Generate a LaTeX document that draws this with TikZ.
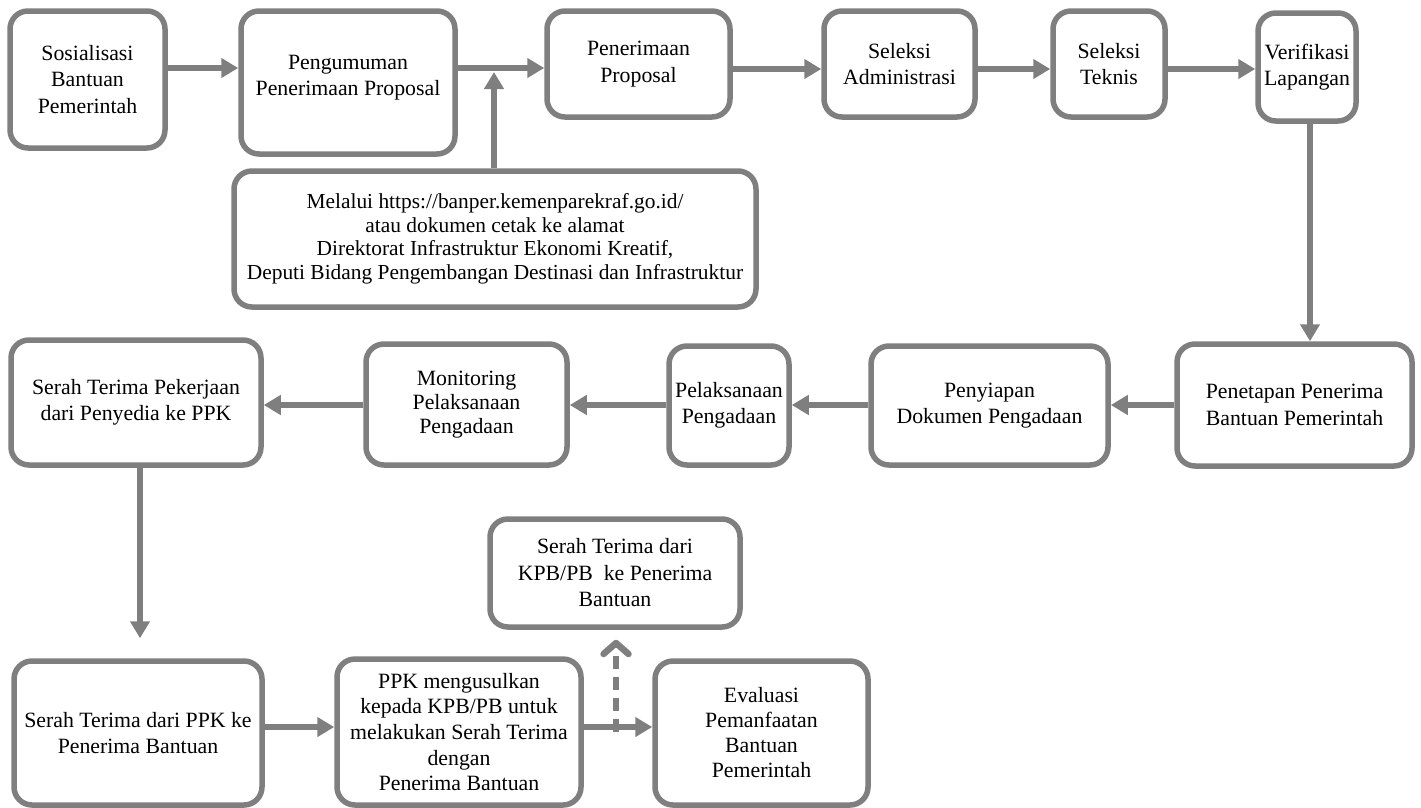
\documentclass[tikz,border=0pt]{standalone}
\usepackage{fontspec}
\setmainfont{Liberation Serif}
\usetikzlibrary{arrows.meta,calc}
\definecolor{lg}{RGB}{127,127,127}
\tikzset{
  box/.style={draw=lg, line width=5.5pt, rounded corners=18pt, align=center, fill=white,
    inner sep=1pt, font=\fontsize{21.8}{26.5}\selectfont},
  arr/.style={draw=lg, line width=6pt, -{Triangle[length=17pt,width=19pt]}},
  darr/.style={draw=lg, line width=6.5pt, dash pattern=on 13pt off 8pt,
    -{Straight Barb[length=11pt,width=25pt,line cap=round,line join=round]}},
}
\newcommand{\bx}[6]{\node[box, minimum width=#4pt, minimum height=#5pt] (#1) at (#2,#3) {#6};}
\begin{document}
\begin{tikzpicture}[x=1pt,y=-1pt]
\useasboundingbox (0,0) rectangle (1421,807);
% row 1
\bx{b1}{87.5}{79.5}{155}{137}{Sosialisasi\\Bantuan\\Pemerintah}
\node[box, minimum width=214pt, minimum height=143pt, text depth=14pt] (b2) at (348,82.5) {Pengumuman\\Penerimaan Proposal};
\bx{b3}{638.5}{64}{183}{106}{Penerimaan\\Proposal}
\bx{b4}{899.5}{64}{151}{106}{Seleksi\\Administrasi}
\bx{b5}{1109}{64}{112}{106}{Seleksi\\Teknis}
\bx{b6}{1307}{67}{98}{108}{Verifikasi\\Lapangan}
\node[box, minimum width=522pt, minimum height=136pt, font=\fontsize{21.4}{23.5}\selectfont] (n) at (495,239)
  {Melalui https://banper.kemenparekraf.go.id/\\atau dokumen cetak ke alamat\\Direktorat Infrastruktur Ekonomi Kreatif,\\Deputi Bidang Pengembangan Destinasi dan Infrastruktur};
% row 2
\bx{b7}{1294.5}{405}{235}{122}{Penetapan Penerima\\Bantuan Pemerintah}
\bx{b8}{989.5}{405.5}{237}{119}{Penyiapan\\Dokumen Pengadaan}
\bx{b9}{729}{405.5}{120}{119}{Pelaksanaan\\Pengadaan}
\node[box, minimum width=201pt, minimum height=121pt, font=\fontsize{21.8}{24}\selectfont] (b10) at (466.5,404.5) {Monitoring\\Pelaksanaan\\Pengadaan};
\bx{b11}{136}{402.5}{250}{125}{Serah Terima Pekerjaan\\dari Penyedia ke PPK}
% row 3
\bx{b12}{138}{733}{248}{144}{Serah Terima dari PPK ke\\Penerima Bantuan}
\node[box, minimum width=244pt, minimum height=146pt, font=\fontsize{21.8}{25.7}\selectfont] (b13) at (459,732)
  {PPK mengusulkan\\kepada KPB/PB untuk\\melakukan Serah Terima\\dengan\\Penerima Bantuan};
\node[box, minimum width=213pt, minimum height=144pt, font=\fontsize{21.8}{25}\selectfont] (b14) at (761.5,733) {Evaluasi\\Pemanfaatan\\Bantuan\\Pemerintah};
\bx{b15}{615}{573}{250}{108}{Serah Terima dari\\KPB/PB\ \ ke Penerima\\Bantuan}
% helper coordinates
\coordinate (y1) at (0,68);
\coordinate (y2) at (0,69);
\coordinate (j) at (494,68);
\coordinate (y3) at (0,405);
\coordinate (y4) at (0,727);
\coordinate (dj) at (616,727);
% connectors
\draw[arr] (b1.east |- y1) -- (b2.west |- y1);
\draw[arr] (b2.east |- y1) -- (b3.west |- y1);
\draw[arr] (n.north -| j) -- ([yshift=-4pt]j);
\draw[arr] (b3.east |- y2) -- (b4.west |- y2);
\draw[arr] (b4.east |- y2) -- (b5.west |- y2);
\draw[arr] (b5.east |- y2) -- (b6.west |- y2);
\draw[arr] ([xshift=3pt]b6.south) -- ([xshift=3pt]b6.south |- b7.north);
\draw[arr] (b7.west |- y3) -- (b8.east |- y3);
\draw[arr] (b8.west |- y3) -- (b9.east |- y3);
\draw[arr] (b9.west |- y3) -- (b10.east |- y3);
\draw[arr] (b10.west |- y3) -- (b11.east |- y3);
\draw[arr, shorten >=20pt] ([xshift=4pt]b11.south) -- ([xshift=4pt]b11.south |- b12.north);
\draw[arr] (b12.east |- y4) -- (b13.west |- y4);
\draw[arr] (b13.east |- y4) -- (b14.west |- y4);
\draw[darr, shorten >=10pt] ([yshift=-5pt]dj) -- (b15.south -| dj);
\end{tikzpicture}
\end{document}
